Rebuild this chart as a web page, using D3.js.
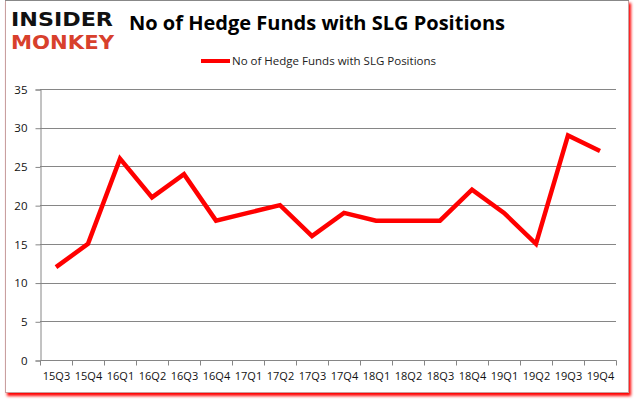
<!DOCTYPE html>
<html>
<head>
<meta charset="UTF-8">
<script src="https://cdn.jsdelivr.net/npm/d3@7"></script>
<style>
  body { margin: 0; background: #fff; }
  svg text { font-family: "Open Sans", "DejaVu Sans", sans-serif; }
</style>
</head>
<body>
<svg id="chart" width="635" height="405"></svg>
<script>
// chart data
const quarters = ["15Q3", "15Q4", "16Q1", "16Q2", "16Q3", "16Q4", "17Q1", "17Q2", "17Q3",
  "17Q4", "18Q1", "18Q2", "18Q3", "18Q4", "19Q1", "19Q2", "19Q3", "19Q4"];
const funds = [12, 15, 26, 21, 24, 18, 19, 20, 16, 19, 18, 18, 18, 22, 19, 15, 29, 27];
const yTicks = [0, 5, 10, 15, 20, 25, 30, 35];
const seriesName = "No of Hedge Funds with SLG Positions";

const svg = d3.select("#chart");

// frame with red shadow
const defs = svg.append("defs");
const f = defs.append("filter").attr("id", "shadow")
  .attr("x", "-5%").attr("y", "-5%").attr("width", "110%").attr("height", "115%");
f.append("feDropShadow").attr("dx", 2).attr("dy", 3).attr("stdDeviation", 1.8)
  .attr("flood-color", "#ff0000").attr("flood-opacity", 1);

svg.append("rect")
  .attr("x", 5.5).attr("y", 0.5).attr("width", 623).attr("height", 392)
  .attr("fill", "#fff").attr("stroke", "#c8a0a0").attr("stroke-width", 1)
  .attr("filter", "url(#shadow)");
svg.append("line").attr("x1", 5).attr("x2", 629).attr("y1", 0.5).attr("y2", 0.5)
  .attr("stroke", "#888");

// logo
svg.append("text").attr("x", 11).attr("y", 26)
  .attr("font-size", 19).attr("font-weight", 900).attr("fill", "#111")
  .attr("textLength", 102).attr("lengthAdjust", "spacingAndGlyphs")
  .style("font-family", "DejaVu Sans")
  .text("INSIDER");
svg.append("text").attr("x", 11).attr("y", 49)
  .attr("font-size", 19).attr("font-weight", 900).attr("fill", "#d8402c")
  .attr("textLength", 103).attr("lengthAdjust", "spacingAndGlyphs")
  .style("font-family", "DejaVu Sans")
  .text("MONKEY");

// title
svg.append("text").attr("x", 317).attr("y", 30)
  .attr("text-anchor", "middle").attr("font-size", 20).attr("font-weight", "bold")
  .attr("textLength", 376).attr("lengthAdjust", "spacingAndGlyphs")
  .text(seriesName);

// legend
svg.append("line").attr("x1", 201).attr("x2", 230).attr("y1", 61).attr("y2", 61)
  .attr("stroke", "#ff0000").attr("stroke-width", 4);
svg.append("text").attr("x", 232).attr("y", 65).attr("font-size", 11.5).attr("fill", "#222")
  .attr("textLength", 204).attr("lengthAdjust", "spacingAndGlyphs")
  .text(seriesName);

// scales
const x = d3.scaleBand().domain(quarters).range([40, 616]);
const y = d3.scaleLinear().domain([0, 35]).range([360, 89]);

// gridlines
svg.append("g")
  .selectAll("line").data(yTicks.filter(d => d > 0)).join("line")
  .attr("x1", 40).attr("x2", 616)
  .attr("y1", d => Math.round(y(d)) + 0.5).attr("y2", d => Math.round(y(d)) + 0.5)
  .attr("stroke", "#868686").attr("stroke-width", 1);

// y axis
const yAxis = svg.append("g")
  .attr("transform", "translate(40.5,0.5)")
  .call(d3.axisLeft(y).tickValues(yTicks).tickSize(5).tickPadding(8));
yAxis.selectAll("line, path").attr("stroke", "#868686");
yAxis.selectAll("text").attr("font-size", 11.5).attr("fill", "#111")
  .style("font-family", "Open Sans");

// x axis
const xAxis = svg.append("g")
  .attr("transform", "translate(0.5,360.5)")
  .call(d3.axisBottom(x).tickSize(0).tickPadding(12));
xAxis.select("path").attr("stroke", "#868686").attr("d", "M40,0H616");
xAxis.selectAll("text").attr("font-size", 11).attr("fill", "#111")
  .style("font-family", "Open Sans");
xAxis.append("g").selectAll("line")
  .data(quarters.concat(["end"]))
  .join("line")
  .attr("x1", (d, i) => 40 + i * x.bandwidth()).attr("x2", (d, i) => 40 + i * x.bandwidth())
  .attr("y1", 0).attr("y2", 5).attr("stroke", "#868686");

// line
const line = d3.line()
  .x((d, i) => x(quarters[i]) + x.bandwidth() / 2)
  .y(d => y(d));
svg.append("path").datum(funds)
  .attr("fill", "none").attr("stroke", "#ff0000").attr("stroke-width", 4.5)
  .attr("stroke-linejoin", "miter")
  .attr("d", line);
</script>
</body>
</html>
